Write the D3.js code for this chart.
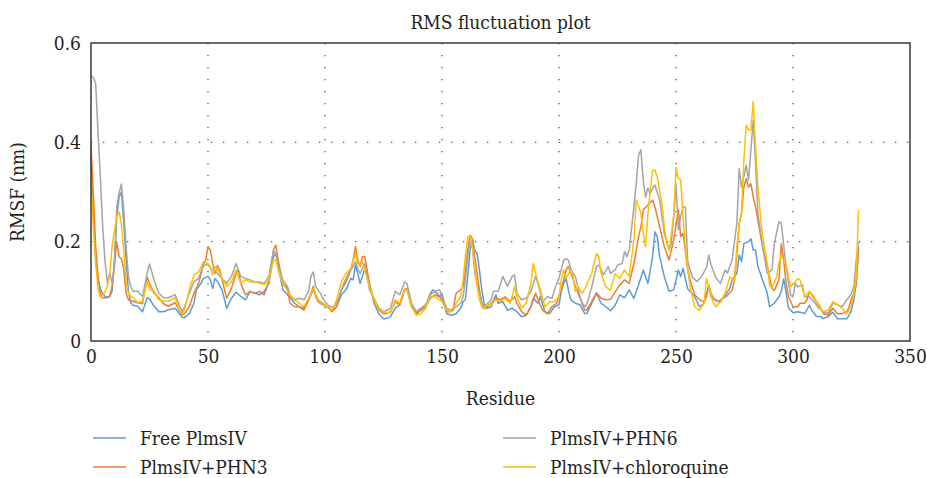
<!DOCTYPE html>
<html>
<head>
<meta charset="utf-8">
<script src="https://cdn.jsdelivr.net/npm/d3@7"></script>
<style>
  body { margin: 0; background: #fff; }
</style>
</head>
<body>
<svg id="chart" width="927" height="478"></svg>
<script>
// residue / RMSF (nm) pairs
const freePlmsIV = [[0,0.37],[1,0.25],[2,0.16],[3,0.125],[4,0.105],[5,0.095],[6,0.09],[7,0.088],[8,0.09],[9,0.1],[10,0.16],[11,0.25],[12,0.29],[13,0.3],[14,0.24],[15,0.163],[16,0.1],[17,0.077],[18,0.072],[20,0.07],[22,0.059],[24,0.087],[25,0.085],[27,0.07],[29,0.059],[31,0.059],[33,0.063],[36,0.066],[38,0.054],[39,0.048],[40,0.047],[42,0.055],[44,0.076],[45,0.103],[47,0.116],[48,0.126],[50,0.13],[51,0.123],[52,0.106],[53,0.126],[54,0.12],[56,0.103],[58,0.066],[60,0.086],[62,0.098],[64,0.09],[66,0.083],[68,0.1],[70,0.096],[72,0.093],[74,0.1],[76,0.116],[78,0.17],[79,0.176],[80,0.15],[82,0.103],[84,0.093],[85,0.089],[87,0.076],[89,0.069],[91,0.066],[93,0.083],[95,0.103],[97,0.083],[99,0.076],[101,0.069],[103,0.062],[105,0.069],[107,0.093],[109,0.103],[111,0.126],[112,0.123],[113,0.153],[114,0.136],[115,0.116],[116,0.13],[117,0.146],[119,0.116],[121,0.076],[123,0.055],[125,0.045],[126,0.045],[128,0.049],[130,0.066],[132,0.073],[134,0.103],[135,0.106],[137,0.069],[139,0.055],[141,0.062],[143,0.069],[145,0.096],[146,0.103],[148,0.096],[149,0.089],[150,0.096],[152,0.055],[154,0.052],[156,0.055],[158,0.066],[159,0.079],[160,0.083],[161,0.13],[162,0.183],[163,0.203],[164,0.183],[165,0.176],[166,0.143],[167,0.103],[168,0.076],[169,0.066],[171,0.069],[173,0.093],[174,0.076],[176,0.079],[178,0.062],[180,0.066],[182,0.059],[184,0.049],[186,0.052],[188,0.069],[189,0.086],[191,0.076],[192,0.089],[194,0.059],[196,0.055],[198,0.069],[200,0.073],[201,0.1],[202,0.116],[203,0.126],[204,0.103],[205,0.083],[207,0.076],[209,0.073],[211,0.055],[212,0.056],[214,0.076],[216,0.096],[218,0.076],[220,0.069],[222,0.061],[224,0.072],[226,0.093],[228,0.087],[230,0.103],[232,0.086],[234,0.113],[236,0.143],[238,0.116],[240,0.17],[241,0.22],[242,0.21],[243,0.17],[245,0.13],[247,0.1],[249,0.103],[251,0.143],[252,0.13],[253,0.146],[255,0.105],[256,0.1],[258,0.089],[260,0.069],[262,0.076],[263,0.096],[264,0.109],[265,0.089],[267,0.082],[269,0.079],[271,0.092],[273,0.106],[274,0.123],[276,0.136],[277,0.173],[278,0.16],[279,0.196],[281,0.2],[282,0.206],[283,0.183],[284,0.183],[285,0.15],[287,0.123],[289,0.096],[290,0.069],[292,0.076],[294,0.089],[295,0.1],[296,0.125],[297,0.1],[298,0.068],[300,0.057],[302,0.059],[304,0.057],[305,0.055],[307,0.072],[308,0.062],[310,0.05],[312,0.049],[313,0.045],[315,0.049],[317,0.058],[319,0.045],[321,0.045],[323,0.045],[324,0.052],[325,0.062],[326,0.083],[327,0.116],[328,0.19]];

const plmsPHN3 = [[0,0.393],[1,0.298],[2,0.19],[3,0.129],[4,0.096],[5,0.087],[6,0.087],[7,0.087],[8,0.09],[9,0.11],[10,0.15],[11,0.2],[12,0.17],[13,0.165],[14,0.145],[15,0.096],[16,0.083],[18,0.08],[20,0.077],[22,0.075],[24,0.129],[25,0.115],[27,0.096],[29,0.087],[31,0.075],[33,0.07],[36,0.077],[38,0.059],[39,0.053],[40,0.055],[42,0.069],[44,0.096],[46,0.116],[48,0.153],[49,0.163],[50,0.19],[51,0.183],[52,0.156],[53,0.136],[54,0.152],[55,0.143],[56,0.123],[58,0.086],[60,0.106],[62,0.136],[63,0.143],[64,0.116],[66,0.093],[68,0.1],[70,0.096],[72,0.1],[74,0.093],[76,0.119],[78,0.183],[79,0.193],[80,0.163],[82,0.116],[84,0.106],[85,0.076],[87,0.069],[89,0.069],[91,0.062],[93,0.083],[95,0.11],[96,0.089],[97,0.079],[99,0.073],[101,0.069],[103,0.059],[105,0.069],[107,0.103],[109,0.119],[111,0.143],[112,0.163],[113,0.19],[114,0.163],[115,0.15],[116,0.17],[117,0.17],[119,0.116],[121,0.079],[123,0.062],[125,0.055],[126,0.055],[128,0.059],[130,0.079],[132,0.073],[134,0.103],[135,0.103],[137,0.073],[139,0.055],[141,0.062],[143,0.069],[145,0.086],[147,0.093],[149,0.089],[150,0.083],[152,0.059],[154,0.059],[155,0.069],[156,0.096],[158,0.103],[159,0.11],[160,0.143],[161,0.183],[162,0.213],[163,0.206],[164,0.17],[165,0.136],[166,0.103],[167,0.076],[168,0.066],[169,0.068],[171,0.076],[173,0.086],[175,0.083],[177,0.089],[179,0.079],[181,0.089],[182,0.076],[184,0.059],[186,0.052],[188,0.069],[190,0.096],[191,0.083],[193,0.062],[195,0.055],[197,0.069],[199,0.076],[201,0.103],[203,0.143],[204,0.15],[205,0.139],[207,0.11],[209,0.086],[211,0.062],[212,0.063],[214,0.08],[216,0.097],[218,0.086],[220,0.083],[222,0.084],[224,0.099],[226,0.113],[228,0.123],[230,0.116],[232,0.156],[234,0.21],[235,0.23],[236,0.264],[238,0.274],[240,0.284],[241,0.27],[243,0.23],[245,0.19],[247,0.163],[249,0.203],[251,0.264],[252,0.21],[253,0.217],[255,0.145],[256,0.123],[258,0.093],[260,0.083],[262,0.079],[263,0.089],[264,0.113],[265,0.096],[266,0.086],[268,0.079],[270,0.086],[272,0.092],[274,0.102],[275,0.123],[276,0.176],[277,0.237],[278,0.257],[279,0.31],[280,0.327],[281,0.31],[282,0.317],[283,0.29],[284,0.27],[285,0.243],[286,0.216],[287,0.19],[289,0.15],[291,0.106],[292,0.102],[294,0.123],[295,0.196],[296,0.163],[297,0.118],[298,0.09],[300,0.069],[302,0.069],[303,0.076],[305,0.076],[306,0.083],[307,0.1],[309,0.086],[311,0.073],[313,0.055],[315,0.052],[317,0.066],[319,0.055],[321,0.055],[323,0.059],[324,0.069],[325,0.086],[326,0.096],[327,0.116],[328,0.186]];

const plmsPHN6 = [[0,0.534],[1,0.53],[2,0.519],[3,0.42],[4,0.33],[5,0.23],[6,0.16],[7,0.117],[8,0.137],[9,0.117],[10,0.149],[11,0.27],[12,0.298],[13,0.316],[14,0.264],[15,0.19],[16,0.13],[17,0.109],[18,0.1],[20,0.1],[22,0.09],[24,0.136],[25,0.155],[27,0.122],[29,0.096],[31,0.087],[33,0.087],[36,0.093],[38,0.069],[39,0.059],[40,0.069],[42,0.096],[44,0.119],[46,0.126],[48,0.153],[50,0.153],[52,0.143],[54,0.136],[56,0.126],[58,0.116],[60,0.13],[62,0.156],[64,0.13],[66,0.126],[68,0.123],[70,0.119],[72,0.119],[74,0.116],[76,0.13],[78,0.183],[79,0.176],[80,0.153],[82,0.123],[84,0.11],[85,0.093],[87,0.083],[89,0.086],[91,0.083],[93,0.1],[94,0.13],[95,0.139],[96,0.11],[98,0.096],[100,0.079],[102,0.069],[104,0.069],[106,0.089],[108,0.116],[110,0.136],[112,0.15],[113,0.16],[114,0.146],[115,0.136],[116,0.146],[117,0.156],[119,0.103],[121,0.086],[123,0.066],[125,0.059],[126,0.061],[128,0.066],[130,0.1],[132,0.093],[134,0.119],[135,0.116],[137,0.076],[139,0.059],[141,0.066],[143,0.073],[145,0.093],[147,0.1],[149,0.103],[150,0.089],[152,0.066],[154,0.062],[156,0.069],[158,0.076],[159,0.089],[160,0.123],[161,0.17],[162,0.203],[163,0.19],[164,0.136],[165,0.116],[166,0.096],[167,0.079],[168,0.069],[169,0.073],[171,0.083],[172,0.1],[174,0.1],[176,0.13],[178,0.11],[180,0.13],[181,0.133],[182,0.096],[184,0.083],[186,0.086],[188,0.1],[190,0.13],[191,0.116],[193,0.079],[195,0.089],[197,0.086],[199,0.116],[200,0.126],[202,0.163],[203,0.166],[204,0.163],[205,0.146],[206,0.136],[207,0.13],[209,0.089],[210,0.076],[211,0.069],[212,0.075],[214,0.109],[216,0.15],[217,0.153],[219,0.133],[221,0.15],[222,0.136],[224,0.143],[225,0.153],[227,0.156],[228,0.18],[229,0.17],[230,0.183],[232,0.27],[233,0.317],[234,0.374],[235,0.385],[236,0.324],[237,0.29],[238,0.308],[239,0.297],[240,0.308],[241,0.314],[243,0.284],[245,0.217],[247,0.183],[248,0.197],[249,0.25],[250,0.317],[251,0.224],[252,0.25],[253,0.27],[254,0.27],[255,0.16],[257,0.128],[259,0.12],[261,0.13],[263,0.148],[264,0.173],[265,0.153],[267,0.128],[269,0.116],[271,0.143],[272,0.137],[274,0.163],[276,0.237],[277,0.347],[278,0.31],[280,0.354],[281,0.324],[283,0.445],[284,0.357],[285,0.257],[287,0.19],[289,0.136],[291,0.143],[292,0.196],[294,0.24],[295,0.237],[297,0.15],[298,0.12],[299,0.092],[300,0.089],[301,0.116],[302,0.109],[304,0.113],[305,0.089],[307,0.089],[309,0.079],[311,0.066],[313,0.059],[315,0.055],[317,0.076],[319,0.073],[321,0.069],[322,0.076],[323,0.083],[324,0.089],[325,0.096],[326,0.109],[327,0.163],[328,0.2]];

const plmsChloroquine = [[0,0.328],[1,0.23],[2,0.157],[3,0.103],[4,0.089],[5,0.092],[6,0.1],[7,0.11],[8,0.135],[9,0.19],[10,0.22],[11,0.25],[12,0.26],[13,0.235],[14,0.18],[15,0.12],[16,0.095],[18,0.087],[20,0.077],[22,0.08],[24,0.12],[25,0.103],[27,0.1],[29,0.083],[31,0.08],[33,0.08],[36,0.087],[38,0.059],[39,0.056],[40,0.062],[42,0.103],[44,0.133],[46,0.139],[48,0.16],[50,0.156],[51,0.15],[52,0.133],[53,0.15],[54,0.146],[56,0.126],[58,0.11],[60,0.119],[62,0.143],[64,0.116],[66,0.123],[68,0.119],[70,0.119],[72,0.116],[74,0.113],[76,0.123],[78,0.163],[79,0.163],[80,0.143],[82,0.116],[84,0.1],[85,0.093],[87,0.083],[89,0.076],[91,0.069],[93,0.086],[95,0.106],[97,0.083],[99,0.073],[101,0.069],[103,0.062],[105,0.083],[107,0.119],[109,0.136],[111,0.146],[113,0.176],[114,0.156],[115,0.153],[116,0.16],[117,0.143],[119,0.11],[121,0.083],[123,0.062],[125,0.059],[126,0.058],[128,0.057],[130,0.083],[132,0.076],[134,0.106],[135,0.103],[137,0.069],[139,0.052],[141,0.055],[143,0.066],[145,0.089],[147,0.089],[149,0.083],[150,0.079],[152,0.062],[154,0.059],[155,0.062],[156,0.076],[158,0.089],[159,0.123],[160,0.17],[161,0.21],[162,0.211],[163,0.19],[164,0.15],[165,0.11],[166,0.083],[167,0.069],[168,0.064],[169,0.073],[171,0.073],[173,0.083],[175,0.079],[177,0.086],[179,0.076],[180,0.089],[181,0.11],[182,0.089],[184,0.066],[186,0.076],[188,0.116],[189,0.156],[190,0.136],[192,0.103],[194,0.069],[196,0.079],[198,0.079],[200,0.089],[201,0.123],[202,0.143],[203,0.126],[205,0.143],[206,0.13],[207,0.1],[208,0.11],[209,0.103],[210,0.096],[211,0.105],[212,0.115],[214,0.136],[216,0.176],[217,0.17],[218,0.136],[220,0.109],[222,0.102],[224,0.136],[226,0.126],[228,0.143],[230,0.13],[232,0.203],[233,0.284],[235,0.257],[236,0.217],[237,0.19],[238,0.257],[239,0.304],[240,0.344],[241,0.344],[242,0.33],[244,0.277],[245,0.23],[246,0.197],[247,0.183],[249,0.25],[250,0.35],[251,0.328],[252,0.324],[253,0.25],[254,0.19],[255,0.145],[256,0.109],[258,0.069],[260,0.062],[262,0.076],[263,0.126],[264,0.109],[266,0.076],[267,0.069],[269,0.079],[271,0.096],[273,0.129],[275,0.123],[276,0.19],[277,0.237],[278,0.257],[279,0.364],[280,0.435],[281,0.425],[282,0.425],[283,0.482],[284,0.391],[285,0.311],[286,0.257],[287,0.21],[289,0.157],[290,0.113],[291,0.106],[293,0.129],[294,0.157],[295,0.173],[296,0.163],[297,0.156],[298,0.13],[299,0.11],[301,0.119],[302,0.126],[303,0.123],[305,0.089],[307,0.1],[309,0.089],[311,0.069],[313,0.059],[315,0.062],[317,0.079],[319,0.073],[321,0.066],[323,0.055],[324,0.062],[325,0.073],[326,0.096],[327,0.13],[328,0.264]];

const seriesNames = ["Free PlmsIV", "PlmsIV+PHN3", "PlmsIV+PHN6", "PlmsIV+chloroquine"];
const seriesColors = ["#5b9bd5", "#ed7d31", "#a5a5a5", "#ffc000"];
const xTicks = [0, 50, 100, 150, 200, 250, 300, 350];
const yTicks = [0, 0.2, 0.4, 0.6];

const serif = "'DejaVu Serif Condensed', 'DejaVu Serif', 'Liberation Serif', serif";
const fontSize = 19;
const ink = "#231f20";
const svg = d3.select("#chart");
const plotLeft = 91, plotRight = 910, plotTop = 43, plotBottom = 341;

const x = d3.scaleLinear().domain([0, 350]).range([plotLeft, plotRight]);
const y = d3.scaleLinear().domain([0, 0.6]).range([plotBottom, plotTop]);

// dotted grid
svg.append("g")
    .selectAll("line")
    .data(xTicks.slice(1, -1))
    .enter()
    .append("line")
    .attr("x1", d => x(d)).attr("x2", d => x(d))
    .attr("y1", plotTop).attr("y2", plotBottom)
    .attr("stroke", "#555")
    .attr("stroke-width", 1.3)
    .attr("stroke-dasharray", "1.3,10.7");

svg.append("g")
    .selectAll("line")
    .data(yTicks.slice(1, -1))
    .enter()
    .append("line")
    .attr("x1", plotLeft).attr("x2", plotRight)
    .attr("y1", d => y(d)).attr("y2", d => y(d))
    .attr("stroke", "#555")
    .attr("stroke-width", 1.3)
    .attr("stroke-dasharray", "1.3,10.7");

// series lines
const line = d3.line()
    .x(d => x(d[0]))
    .y(d => y(d[1]));

const allSeries = [freePlmsIV, plmsPHN3, plmsPHN6, plmsChloroquine];
allSeries.forEach((s, i) => {
    svg.append("path")
        .attr("d", line(s))
        .attr("fill", "none")
        .attr("stroke", seriesColors[i])
        .attr("stroke-width", 1.5)
        .attr("stroke-linejoin", "round");
});

// plot frame
svg.append("rect")
    .attr("x", plotLeft).attr("y", plotTop)
    .attr("width", plotRight - plotLeft).attr("height", plotBottom - plotTop)
    .attr("fill", "none")
    .attr("stroke", "#3a3a3a")
    .attr("stroke-width", 1.5);

// axes labels
const xAxis = d3.axisBottom(x).tickValues(xTicks).tickSize(0).tickPadding(9).tickFormat(d3.format("d"));
const gx = svg.append("g").attr("transform", "translate(0," + plotBottom + ")").call(xAxis);
gx.attr("font-family", serif).attr("font-size", fontSize);
gx.select(".domain").remove();
gx.selectAll("text").attr("fill", ink);

const yAxis = d3.axisLeft(y).tickValues(yTicks).tickSize(0).tickPadding(10).tickFormat(d => d === 0 ? "0" : d3.format(".1f")(d));
const gy = svg.append("g").attr("transform", "translate(" + plotLeft + ",0)").call(yAxis);
gy.attr("font-family", serif).attr("font-size", fontSize);
gy.select(".domain").remove();
gy.selectAll("text").attr("fill", ink);

function addText(txt, xPos, yPos, transform) {
    const t = svg.append("text")
        .attr("text-anchor", "middle")
        .attr("font-family", serif)
        .attr("font-size", fontSize)
        .attr("fill", ink)
        .text(txt);
    if (transform) t.attr("transform", transform);
    else t.attr("x", xPos).attr("y", yPos);
}

addText("RMS fluctuation plot", (plotLeft + plotRight) / 2, 29);
addText("Residue", (plotLeft + plotRight) / 2, 405);
addText("RMSF (nm)", 0, 0, "translate(24," + ((plotTop + plotBottom) / 2) + ") rotate(-90)");

// legend, two columns
const legendPos = [[93, 438], [93, 467], [503, 438], [503, 467]];
seriesNames.forEach((name, i) => {
    const g = svg.append("g").attr("transform", "translate(" + legendPos[i][0] + "," + legendPos[i][1] + ")");
    g.append("line")
        .attr("x1", 0).attr("x2", 33)
        .attr("stroke", seriesColors[i])
        .attr("stroke-width", 1.5);
    g.append("text")
        .attr("x", 47).attr("y", 6.5)
        .attr("font-family", serif)
        .attr("font-size", fontSize)
        .attr("fill", ink)
        .text(name);
});
</script>
</body>
</html>
